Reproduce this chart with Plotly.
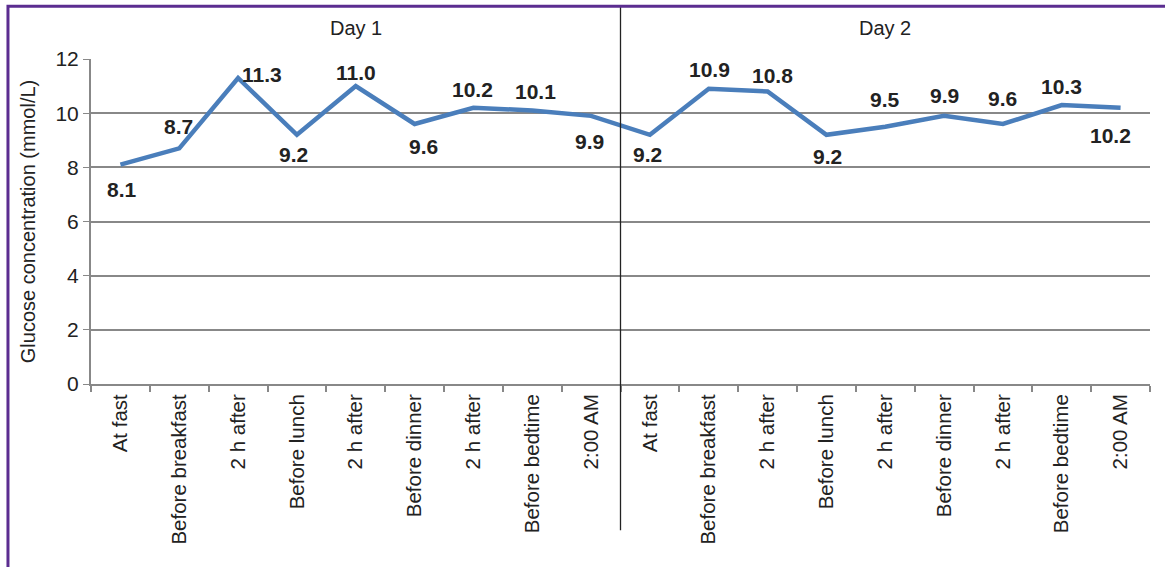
import plotly.graph_objects as go

days = ["Day 1", "Day 2"]
categories = ["At fast", "Before breakfast", "2 h after", "Before lunch", "2 h after",
              "Before dinner", "2 h after", "Before bedtime", "2:00 AM"]
day1_values = [8.1, 8.7, 11.3, 9.2, 11.0, 9.6, 10.2, 10.1, 9.9]
day2_values = [9.2, 10.9, 10.8, 9.2, 9.5, 9.9, 9.6, 10.3, 10.2]
y_ticks = [0, 2, 4, 6, 8, 10, 12]

labels = categories + categories
values = day1_values + day2_values
xs = list(range(len(values)))

# label placement (dx, dy in px) per point
label_offsets = [(2, -25), (-1, 22), (24, 3), (-3, -20), (0, 14), (9, -22), (-1, 18), (3, 19), (-2, -26),
                 (-2, -20), (1, 19), (5, 16), (1, -22), (0, 27), (0, 20), (0, 26), (0, 19), (-10, -28)]

BLUE = "#4A7EBB"
FONT = "Liberation Sans, Arial, sans-serif"
TXT = "#222222"

fig = go.Figure()
fig.add_trace(go.Scatter(x=xs, y=values, mode="lines",
                         line=dict(color=BLUE, width=4.5), hoverinfo="skip"))

for x, v, (dx, dy) in zip(xs, values, label_offsets):
    fig.add_annotation(x=x, y=v, text=f"<b>{v:.1f}</b>", showarrow=False,
                       xshift=dx, yshift=dy, font=dict(size=21, color=TXT, family=FONT))

n = len(values)
half = len(categories)
for i, d in enumerate(days):
    fig.add_annotation(x=i * half + (half - 1) / 2, y=1.095, xref="x", yref="paper", text=d,
                       yanchor="middle", showarrow=False, font=dict(size=20, color=TXT, family=FONT))

# day divider
fig.add_shape(type="line", xref="x", yref="paper", x0=half - 0.5, x1=half - 0.5,
              y0=1.16, y1=-0.45, line=dict(color=TXT, width=1.3))

# purple frame
fig.add_shape(type="rect", xref="paper", yref="paper", x0=-0.0784, x1=1.05,
              y0=-1.0, y1=1.162, line=dict(color="#5B2D90", width=3))

fig.update_layout(
    width=1165, height=567,
    margin=dict(l=91, r=15, t=59, b=183),
    plot_bgcolor="white", paper_bgcolor="white",
    showlegend=False,
    font=dict(family=FONT, color=TXT),
    xaxis=dict(range=[-0.5, n - 0.5], tickmode="array", tickvals=xs, ticktext=labels,
               tickangle=-90, tickfont=dict(size=20.5, family=FONT, color=TXT),
               showgrid=False, zeroline=False, showline=True, linecolor="#888888", linewidth=2,
               ticks="", ticklen=12,
               minor=dict(tickmode="array", tickvals=[i - 0.5 for i in range(n + 1)],
                          ticks="outside", ticklen=6, tickcolor="#888888", tickwidth=2, showgrid=False)),
    yaxis=dict(range=[0, 12], tickmode="array", tickvals=y_ticks,
               tickfont=dict(size=21, family=FONT, color=TXT),
               showgrid=True, gridcolor="#888888", gridwidth=1.5, zeroline=False,
               showline=True, linecolor="#888888", linewidth=2, ticks="outside", ticklen=6,
               tickcolor="#888888",
               title=dict(text="Glucose concentration (mmol/L)", standoff=14,
                          font=dict(size=20, family=FONT, color=TXT))),
)

fig.write_html("out.html")
